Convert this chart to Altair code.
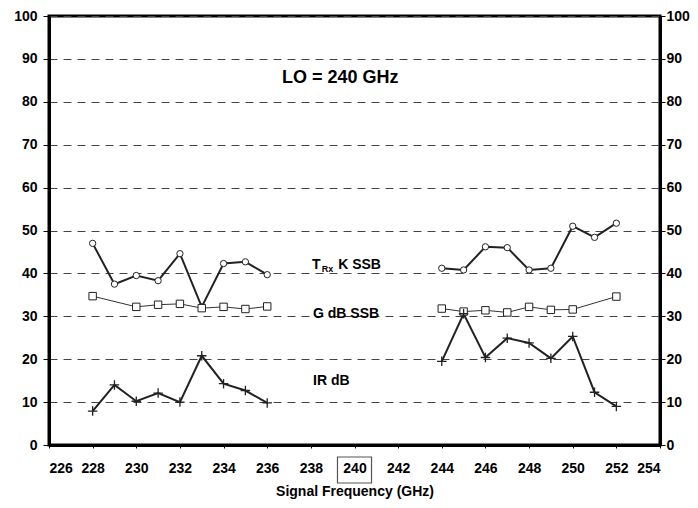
import altair as alt
import pandas as pd

# ---- data ----
freq_lo = [228, 229, 230, 231, 232, 233, 234, 235, 236]
freq_hi = [244, 245, 246, 247, 248, 249, 250, 251, 252]

trx_lo = [47.0, 37.5, 39.5, 38.3, 44.6, 32.2, 42.3, 42.7, 39.7]
trx_hi = [41.2, 40.8, 46.2, 46.0, 40.8, 41.2, 51.0, 48.4, 51.7]

g_freq_lo = [228, 230, 231, 232, 233, 234, 235, 236]
g_lo = [34.7, 32.2, 32.7, 32.9, 31.9, 32.2, 31.7, 32.3]
g_freq_hi = [244, 245, 246, 247, 248, 249, 250, 252]
g_hi = [31.8, 31.1, 31.4, 30.9, 32.2, 31.5, 31.6, 34.6]

ir_lo = [7.9, 14.0, 10.2, 12.1, 10.0, 20.8, 14.3, 12.7, 9.8]
ir_hi = [19.5, 30.6, 20.4, 24.9, 23.8, 20.2, 25.3, 12.3, 9.0]

x_ticks = list(range(226, 256, 2))
y_ticks = list(range(0, 110, 10))

rows = []
def add(series, seg, xs, ys):
    for x, y in zip(xs, ys):
        rows.append({"series": series, "seg": f"{series}-{seg}", "f": x, "v": y})

add("TRx", "lo", freq_lo, trx_lo)
add("TRx", "hi", freq_hi, trx_hi)
add("G", "lo", g_freq_lo, g_lo)
add("G", "hi", g_freq_hi, g_hi)
add("IR", "lo", freq_lo, ir_lo)
add("IR", "hi", freq_hi, ir_hi)
df = pd.DataFrame(rows)

FONT = "Liberation Sans"
xscale = alt.Scale(domain=[226, 254], nice=False, zero=False)
yscale = alt.Scale(domain=[0, 100], nice=False)

xenc = alt.X("f:Q", scale=xscale, axis=alt.Axis(
    values=x_ticks, title="Signal Frequency (GHz)", grid=False, format="d",
    labelFont=FONT, labelFontSize=14, labelFontWeight="bold", labelColor="black",
    titleFont=FONT, titleFontSize=14, titleFontWeight="bold", titleColor="black",
    tickColor="black", tickSize=3, labelPadding=13, titlePadding=9,
    domainColor="black", domainWidth=3))
yleft = alt.Y("v:Q", scale=yscale, axis=alt.Axis(
    values=y_ticks, title=None, orient="left", grid=True,
    gridDash=[8, 6], gridColor="#444", gridWidth=1,
    labelFont=FONT, labelFontSize=14, labelFontWeight="bold", labelColor="black",
    tickColor="black", tickSize=6, labelPadding=6, domainColor="black", domainWidth=3))
yright = alt.Y("v:Q", scale=yscale, axis=alt.Axis(
    values=y_ticks, title=None, orient="right", grid=False,
    labelFont=FONT, labelFontSize=14, labelFontWeight="bold", labelColor="black",
    tickColor="black", tickSize=5, labelPadding=1, domainColor="black", domainWidth=3))

base = alt.Chart(df)

line_trx = base.transform_filter("datum.series == 'TRx'").mark_line(
    color="#222", strokeWidth=2).encode(x=xenc, y=yleft, detail="seg:N")
line_g = base.transform_filter("datum.series == 'G'").mark_line(
    color="#333", strokeWidth=1).encode(x=xenc, y=yleft, detail="seg:N")
line_ir = base.transform_filter("datum.series == 'IR'").mark_line(
    color="#222", strokeWidth=2).encode(x=xenc, y=yleft, detail="seg:N")

pt_trx = base.transform_filter("datum.series == 'TRx'").mark_point(
    shape="circle", size=40, filled=True, fill="white", stroke="#222",
    strokeWidth=1, opacity=1).encode(x=xenc, y=yleft)
pt_g = base.transform_filter("datum.series == 'G'").mark_point(
    shape="square", size=55, filled=True, fill="white", stroke="#222",
    strokeWidth=1, opacity=1).encode(x=xenc, y=yleft)
pt_ir = base.transform_filter("datum.series == 'IR'").mark_point(
    shape="M -1 0 L 1 0 M 0 -1 L 0 1", size=90, filled=False, stroke="#222",
    strokeWidth=1.3, opacity=1).encode(x=xenc, y=yleft)

# annotations
ann = pd.DataFrame([
    {"f": 239.35, "v": 85.6, "t": "LO = 240 GHz"},
    {"f": 238.05, "v": 42.0, "t": "T"},
    {"f": 239.25, "v": 42.0, "t": "K SSB"},
    {"f": 238.1, "v": 30.6, "t": "G  dB SSB"},
    {"f": 238.1, "v": 14.9, "t": "IR  dB"},
])
lo_txt = alt.Chart(ann.iloc[[0]]).mark_text(
    font=FONT, fontWeight="bold", fontSize=18, align="center", baseline="middle",
    color="black").encode(x=alt.X("f:Q", scale=xscale), y=alt.Y("v:Q", scale=yscale), text="t:N")
lab_txt = alt.Chart(ann.iloc[1:]).mark_text(
    font=FONT, fontWeight="bold", fontSize=14, align="left", baseline="middle",
    color="black").encode(x=alt.X("f:Q", scale=xscale), y=alt.Y("v:Q", scale=yscale), text="t:N")
sub = pd.DataFrame([{"f": 238.5, "v": 41.0, "t": "Rx"}])
sub_txt = alt.Chart(sub).mark_text(
    font=FONT, fontWeight="bold", fontSize=9, align="left", baseline="middle",
    color="black").encode(x=alt.X("f:Q", scale=xscale), y=alt.Y("v:Q", scale=yscale), text="t:N")

box = pd.DataFrame([{"a": 239.22, "b": 240.78}])
box_mark = alt.Chart(box).mark_rect(
    fill=None, stroke="#555", strokeWidth=1.2).encode(
    x=alt.X("a:Q", scale=xscale), x2="b:Q", y=alt.value(441), y2=alt.value(467))

left = alt.layer(line_trx, line_g, line_ir, pt_trx, pt_g, pt_ir, lo_txt, lab_txt, sub_txt, box_mark)
right = alt.Chart(df).mark_point(opacity=0).encode(x=xenc, y=yright)

chart = alt.layer(left, right).resolve_axis(y="independent").properties(
    width=611, height=429,
    autosize=alt.AutoSizeParams(type="none"),
    padding={"left": 41, "top": 8, "right": 30, "bottom": 55},
    background="white",
).configure_view(stroke="black", strokeWidth=3)

chart.save("out.html", embed_options={"renderer": "svg", "actions": False})
